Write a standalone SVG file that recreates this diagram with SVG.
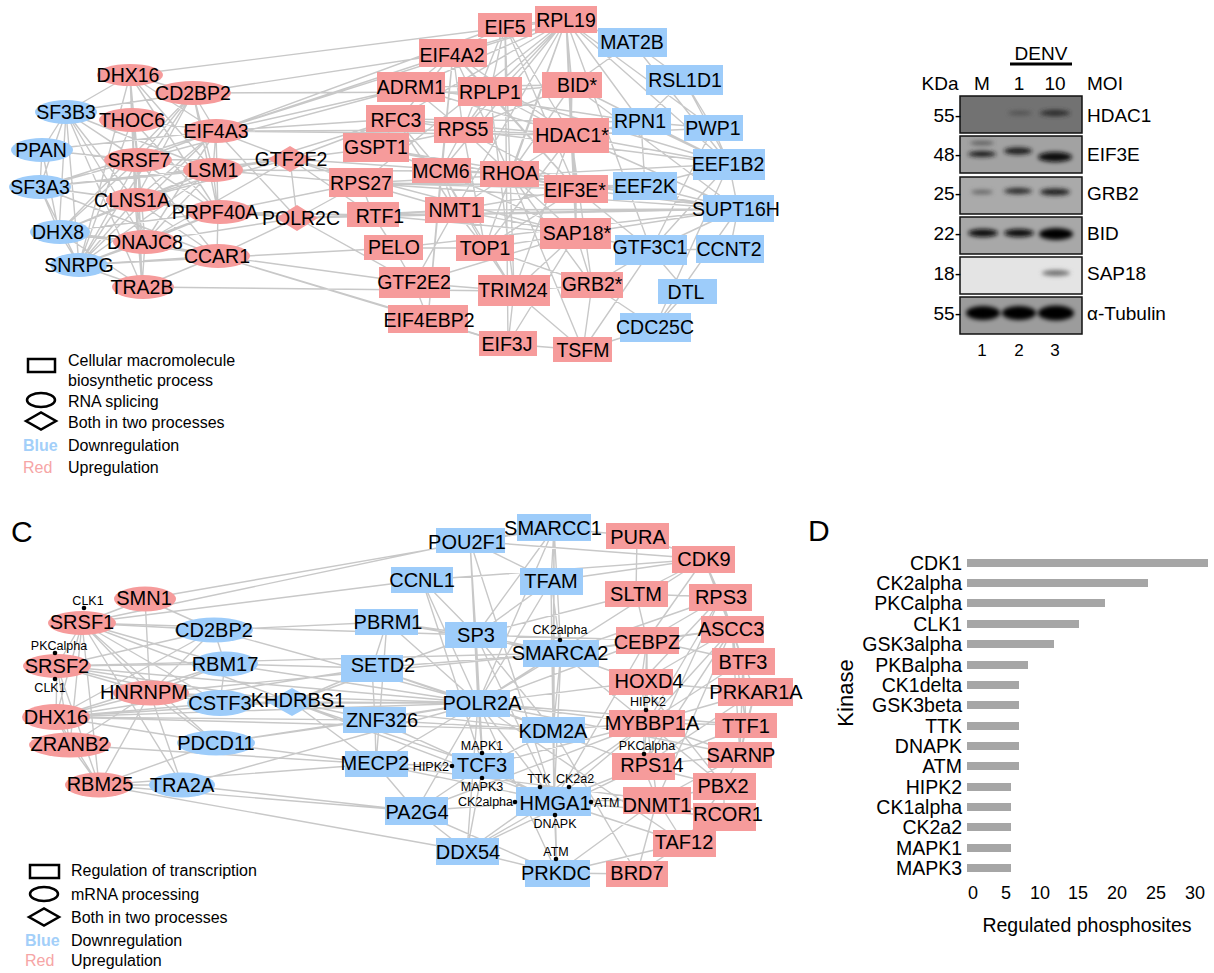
<svg xmlns="http://www.w3.org/2000/svg" width="1214" height="973" viewBox="0 0 1214 973">
<style>
text{font-family:"Liberation Sans",Arial,sans-serif;fill:#000}
.e{stroke:#c8c8c8;stroke-width:1.4;fill:none}
.r{fill:#F69B9B}
.b{fill:#9DCCFA}
.n text{font-size:19.5px;text-anchor:middle;dominant-baseline:central}
.m text{font-size:20px;text-anchor:middle;dominant-baseline:central}
.k{font-size:12.5px;text-anchor:middle;dominant-baseline:central}
.dot{fill:#000}
.lg{font-size:16px;dominant-baseline:central}
.ic{fill:#fff;stroke:#000;stroke-width:2.5}
.wb{font-size:19px;dominant-baseline:central}
.pan{stroke:#111;stroke-width:1.5}
.bar{fill:#a6a6a6}
.bl{font-size:19.5px;text-anchor:end;dominant-baseline:central}
.tk{font-size:18px;text-anchor:middle;dominant-baseline:central}
</style>
<defs>
<filter id="blur" x="-30%" y="-100%" width="160%" height="300%"><feGaussianBlur stdDeviation="2"/></filter>
</defs>

<g id="edges-top">
<path class="e" d="M130 75L193 93M130 75L132 120M130 75L138 160M130 75L216 131M130 75L213 170M130 75L135 200M130 75L66 112M130 75L218 212M130 75L145 242M130 75L79 265M193 93L66 112M193 93L138 160M193 93L213 170M193 93L135 200M193 93L79 265M193 93L218 212M193 93L59 232M193 93L216 131M66 112L42 150M66 112L40 187M66 112L138 160M66 112L135 200M66 112L59 232M66 112L79 265M66 112L218 212M66 112L145 242M66 112L213 170M66 112L142 287M132 120L216 131M132 120L138 160M132 120L135 200M132 120L79 265M132 120L218 212M132 120L142 287M216 131L138 160M216 131L213 170M216 131L42 150M216 131L40 187M216 131L135 200M216 131L218 212M216 131L145 242M216 131L79 265M216 131L290 159M216 131L297 218M42 150L138 160M42 150L40 187M42 150L59 232M138 160L213 170M138 160L40 187M138 160L135 200M138 160L59 232M138 160L79 265M138 160L218 212M138 160L145 242M138 160L142 287M138 160L217 256M138 160L290 159M213 170L135 200M213 170L79 265M213 170L218 212M213 170L59 232M213 170L40 187M213 170L145 242M213 170L290 159M290 159L297 218M290 159L135 200M290 159L40 187M290 159L145 242M40 187L135 200M40 187L59 232M40 187L79 265M40 187L218 212M40 187L217 256M135 200L218 212M135 200L59 232M135 200L145 242M135 200L79 265M135 200L142 287M135 200L217 256M135 200L297 218M218 212L145 242M218 212L79 265M218 212L217 256M218 212L59 232M218 212L297 218M59 232L79 265M59 232L145 242M59 232L142 287M59 232L217 256M145 242L79 265M145 242L142 287M145 242L217 256M217 256L79 265M217 256L142 287M79 265L142 287M297 218L217 256M297 218L145 242"/>
<path class="e" d="M130 75L566 20M193 93L453 53M193 93L490 92M216 131L453 53M216 131L505 25M216 131L566 20M216 131L463 130M216 131L571 135M216 131L411 87M216 131L396 119M213 170L361 183M213 170L441 171M290 159L396 119M290 159L361 183M290 159L376 148M290 159L373 215M290 159L510 174M290 159L576 234M297 218L373 215M297 218L455 210M297 218L738 209M297 218L361 183M297 218L414 283M218 212L361 183M218 212L373 215M217 256L428 319M217 256L414 283M217 256L508 344M142 287L514 291M135 200L396 119M138 160L411 87M79 265L394 248"/>
<path class="e" d="M566 20L505 25M566 20L453 53M566 20L490 92M566 20L463 130M566 20L411 87M566 20L396 119M566 20L632 42M566 20L572 85M566 20L571 135M566 20L361 183M566 20L441 171M566 20L510 174M566 20L576 189M566 20L455 210M566 20L641 122M566 20L729 164M566 20L485 248M566 20L576 234M566 20L651 250M566 20L713 128M505 25L453 53M505 25L490 92M505 25L463 130M505 25L576 189M505 25L571 135M505 25L514 291M505 25L508 344M453 53L411 87M453 53L490 92M453 53L463 130M453 53L376 148M453 53L576 189M453 53L428 319M453 53L571 135M453 53L441 171M453 53L510 174M632 42L684 80M632 42L729 164M632 42L572 85M684 80L713 128M684 80L729 164M684 80L641 122M411 87L463 130M411 87L571 135M411 87L572 85M411 87L641 122M490 92L463 130M490 92L576 189M490 92L571 135M490 92L514 291M490 92L572 85M490 92L729 164M572 85L571 135M572 85L510 174M572 85L729 164M572 85L738 209M572 85L463 130M396 119L463 130M396 119L571 135M396 119L441 171M396 119L455 210M396 119L641 122M463 130L571 135M463 130L441 171M463 130L510 174M463 130L576 189M463 130L729 164M463 130L485 248M571 135L641 122M571 135L729 164M571 135L738 209M571 135L510 174M571 135L576 234M571 135L576 189M571 135L592 285M571 135L514 291M571 135L485 248M571 135L713 128M641 122L729 164M641 122L713 128M641 122L645 186M713 128L729 164M713 128L651 250M376 148L576 189M376 148L463 130M376 148L738 209M376 148L441 171M729 164L645 186M729 164L738 209M729 164L361 183M729 164L651 250M729 164L655 327M441 171L510 174M441 171L455 210M441 171L485 248M441 171L576 234M441 171L514 291M441 171L428 319M510 174L576 189M510 174L738 209M510 174L455 210M510 174L576 234M510 174L592 285M510 174L583 350M576 189L645 186M576 189L738 209M576 189L576 234M576 189L455 210M576 189L361 183M576 189L485 248M576 189L651 250M645 186L738 209M645 186L361 183M361 183L738 209M361 183L455 210M361 183L373 215M738 209L373 215M738 209L455 210M738 209L576 234M738 209L730 249M738 209L651 250M738 209L485 248M738 209L394 248M738 209L655 327M373 215L455 210M373 215L576 234M373 215L394 248M455 210L576 234M455 210L485 248M455 210L414 283M576 234L651 250M576 234L514 291M576 234L592 285M576 234L414 283M576 234L508 344M576 234L485 248M651 250L687 292M651 250L592 285M651 250L583 350M730 249L651 250M394 248L485 248M394 248L414 283M485 248L514 291M485 248L592 285M414 283L514 291M414 283L428 319M514 291L508 344M514 291L592 285M514 291L583 350M592 285L583 350M592 285L655 327M687 292L655 327M428 319L508 344M508 344L583 350M655 327L583 350"/>
</g>

<g id="edges-bottom">
<path class="e" d="M82 623L57 666M82 623L56 717M82 623L150 693M82 623L214 630M82 623L225 664M82 623L220 703M82 623L99 785M82 623L182 785M82 623L70 745M82 623L145 599M82 623L216 743M82 623L292 702M57 666L56 717M57 666L150 693M57 666L225 664M57 666L214 630M57 666L220 703M57 666L99 785M57 666L292 702M57 666L70 745M145 599L150 693M145 599L214 630M214 630L225 664M214 630L56 717M214 630L150 693M225 664L220 703M225 664L56 717M225 664L150 693M150 693L56 717M150 693L220 703M150 693L99 785M150 693L182 785M150 693L70 745M150 693L216 743M220 703L292 702M220 703L56 717M56 717L70 745M56 717L99 785M56 717L216 743M56 717L292 702M70 745L99 785M216 743L99 785M99 785L182 785"/>
<path class="e" d="M82 623L470 541M82 623L422 580M145 599L554 528M82 623L476 635M57 666L561 653M57 666L478 703M214 630L387 622M214 630L478 703M225 664L372 668M225 664L478 703M292 702L478 703M292 702L476 635M292 702L375 720M292 702L553 730M292 702L554 801M292 702L376 764M292 702L372 668M292 702L483 766M220 703L478 703M56 717L478 703M56 717L372 668M56 717L375 720M56 717L553 730M216 743L375 720M216 743L376 764M216 743L478 703M99 785L416 811M99 785L376 764M99 785L467 851M182 785L416 811M182 785L478 703M70 745L376 764M150 693L478 703M150 693L561 653"/>
<path class="e" d="M554 528L470 541M554 528L551 581M554 528L561 653M554 528L476 635M554 528L478 703M554 528L553 730M554 528L637 536M554 528L554 801M470 541L476 635M470 541L478 703M470 541L551 581M470 541L554 801M470 541L704 559M422 580L478 703M422 580L476 635M422 580L704 559M422 580L483 766M551 581L561 653M551 581L476 635M551 581L478 703M551 581L553 730M551 581L554 801M551 581L704 559M387 622L561 653M387 622L476 635M387 622L478 703M387 622L372 668M387 622L376 764M476 635L478 703M476 635L561 653M476 635L483 766M476 635L554 801M476 635L553 730M476 635L647 640M476 635L636 594M561 653L478 703M561 653L553 730M561 653L554 801M561 653L647 640M561 653L641 682M561 653L732 629M561 653L721 597M561 653L647 723M372 668L478 703M372 668L375 720M372 668L553 730M372 668L561 653M478 703L375 720M478 703L553 730M478 703L483 766M478 703L554 801M478 703L376 764M478 703L416 811M478 703L704 559M478 703L647 640M478 703L641 682M478 703L647 723M478 703L746 725M478 703L643 766M478 703L684 843M478 703L467 851M478 703L557 873M478 703L740 755M375 720L553 730M375 720L376 764M375 720L554 801M553 730L554 801M553 730L483 766M553 730L647 723M553 730L557 873M553 730L637 874M376 764L483 766M376 764L554 801M376 764L416 811M376 764L657 800M483 766L554 801M483 766L416 811M483 766L467 851M483 766L647 723M554 801L557 873M554 801L467 851M554 801L416 811M554 801L657 800M554 801L643 766M554 801L647 723M554 801L647 640M554 801L684 843M554 801L724 817M416 811L467 851M416 811L557 873M416 811L647 723M467 851L557 873M467 851L647 723M467 851L643 766M557 873L657 800M557 873L684 843M557 873L637 874"/>
<path class="e" d="M637 536L704 559M637 536L636 594M704 559L721 597M704 559L636 594M704 559L647 640M704 559L732 629M704 559L755 692M704 559L743 661M636 594L721 597M636 594L647 640M721 597L732 629M721 597L647 640M721 597L641 682M721 597L743 661M721 597L647 723M721 597L643 766M732 629L647 640M732 629L743 661M732 629L641 682M732 629L647 723M732 629L643 766M732 629L746 725M732 629L740 755M732 629L657 800M647 640L641 682M647 640L647 723M647 640L743 661M647 640L643 766M743 661L755 692M743 661L746 725M743 661L647 723M743 661L740 755M641 682L647 723M641 682L724 786M641 682L755 692M755 692L647 723M755 692L746 725M755 692L740 755M755 692L643 766M647 723L746 725M647 723L643 766M647 723L740 755M647 723L657 800M647 723L724 786M746 725L643 766M746 725L740 755M643 766L740 755M643 766L657 800M643 766L724 786M740 755L724 786M740 755L657 800M724 786L724 817M724 786L657 800M724 786L684 843M657 800L724 817M657 800L684 843M657 800L637 874M724 817L684 843M684 843L637 874M724 817L637 874"/>
</g>

<!-- Top network nodes -->
<g class="n">
<g id="t-DHX16"><ellipse class="r" cx="130" cy="75" rx="33" ry="11"/><text x="128" y="75">DHX16</text></g>
<g id="t-CD2BP2"><ellipse class="r" cx="193" cy="93" rx="38" ry="12"/><text x="193" y="93">CD2BP2</text></g>
<g id="t-SF3B3"><ellipse class="b" cx="66" cy="112" rx="31" ry="12"/><text x="66" y="112">SF3B3</text></g>
<g id="t-THOC6"><ellipse class="r" cx="132" cy="120" rx="33" ry="12"/><text x="132" y="120">THOC6</text></g>
<g id="t-EIF4A3"><ellipse class="r" cx="216" cy="131" rx="32" ry="12"/><text x="216" y="131">EIF4A3</text></g>
<g id="t-PPAN"><ellipse class="b" cx="42" cy="150" rx="31" ry="12"/><text x="41" y="150">PPAN</text></g>
<g id="t-SRSF7"><ellipse class="r" cx="138" cy="160" rx="34" ry="12"/><text x="139" y="160">SRSF7</text></g>
<g id="t-LSM1"><ellipse class="r" cx="213" cy="170" rx="30" ry="12"/><text x="213" y="170">LSM1</text></g>
<g id="t-GTF2F2"><polygon class="r" points="268,159 290,146 312,159 290,172"/><text x="291" y="159">GTF2F2</text></g>
<g id="t-SF3A3"><ellipse class="b" cx="40" cy="187" rx="31" ry="12"/><text x="40" y="187">SF3A3</text></g>
<g id="t-CLNS1A"><ellipse class="r" cx="137" cy="200" rx="31" ry="12"/><text x="132" y="200">CLNS1A</text></g>
<g id="t-PRPF40A"><ellipse class="r" cx="220" cy="212" rx="33" ry="12"/><text x="215" y="212">PRPF40A</text></g>
<g id="t-POLR2C"><polygon class="r" points="276,218 297,205 318,218 297,231"/><text x="301" y="218">POLR2C</text></g>
<g id="t-DHX8"><ellipse class="b" cx="60" cy="232" rx="30" ry="12"/><text x="58" y="232">DHX8</text></g>
<g id="t-DNAJC8"><ellipse class="r" cx="145" cy="242" rx="32" ry="12"/><text x="145" y="242">DNAJC8</text></g>
<g id="t-CCAR1"><ellipse class="r" cx="218" cy="256" rx="32" ry="12"/><text x="217" y="256">CCAR1</text></g>
<g id="t-SNRPG"><ellipse class="b" cx="79" cy="265" rx="29" ry="12"/><text x="79" y="265">SNRPG</text></g>
<g id="t-TRA2B"><ellipse class="r" cx="143" cy="287" rx="31" ry="12"/><text x="142" y="287">TRA2B</text></g>

<g id="t-EIF5"><rect class="r" x="478" y="13" width="54" height="24"/><text x="505" y="27">EIF5</text></g>
<g id="t-RPL19"><rect class="r" x="535" y="6" width="62" height="27"/><text x="566" y="20">RPL19</text></g>
<g id="t-MAT2B"><rect class="b" x="598" y="28" width="69" height="29"/><text x="632" y="42">MAT2B</text></g>
<g id="t-EIF4A2"><rect class="r" x="419" y="39" width="68" height="28"/><text x="452" y="55">EIF4A2</text></g>
<g id="t-RSL1D1"><rect class="b" x="646" y="65" width="77" height="30"/><text x="685" y="80">RSL1D1</text></g>
<g id="t-ADRM1"><rect class="r" x="377" y="72" width="68" height="30"/><text x="411" y="87">ADRM1</text></g>
<g id="t-RPLP1"><rect class="r" x="458" y="77" width="64" height="29"/><text x="490" y="92">RPLP1</text></g>
<g id="t-BID"><rect class="r" x="542" y="72" width="60" height="26"/><text x="577" y="85">BID*</text></g>
<g id="t-RFC3"><rect class="r" x="366" y="105" width="59" height="27"/><text x="396" y="120">RFC3</text></g>
<g id="t-RPS5"><rect class="r" x="434" y="117" width="59" height="26"/><text x="463" y="129">RPS5</text></g>
<g id="t-HDAC1"><rect class="r" x="533" y="118" width="76" height="35"/><text x="572" y="135">HDAC1*</text></g>
<g id="t-RPN1"><rect class="b" x="612" y="108" width="59" height="27"/><text x="640" y="121">RPN1</text></g>
<g id="t-PWP1"><rect class="b" x="684" y="115" width="59" height="26"/><text x="713" y="128">PWP1</text></g>
<g id="t-GSPT1"><rect class="r" x="343" y="133" width="66" height="29"/><text x="376" y="147">GSPT1</text></g>
<g id="t-EEF1B2"><rect class="b" x="693" y="149" width="72" height="31"/><text x="728" y="164">EEF1B2</text></g>
<g id="t-MCM6"><rect class="r" x="412" y="158" width="59" height="25"/><text x="441" y="171">MCM6</text></g>
<g id="t-RHOA"><rect class="r" x="480" y="161" width="59" height="26"/><text x="510" y="173">RHOA</text></g>
<g id="t-EIF3E"><rect class="r" x="544" y="175" width="64" height="28"/><text x="575" y="190">EIF3E*</text></g>
<g id="t-EEF2K"><rect class="b" x="613" y="172" width="64" height="28"/><text x="645" y="186">EEF2K</text></g>
<g id="t-RPS27"><rect class="r" x="329" y="168" width="64" height="29"/><text x="361" y="183">RPS27</text></g>
<g id="t-SUPT16H"><rect class="b" x="703" y="195" width="71" height="27"/><text x="736" y="209">SUPT16H</text></g>
<g id="t-RTF1"><rect class="r" x="347" y="202" width="52" height="25"/><text x="380" y="216">RTF1</text></g>
<g id="t-NMT1"><rect class="r" x="425" y="197" width="59" height="26"/><text x="455" y="210">NMT1</text></g>
<g id="t-SAP18"><rect class="r" x="540" y="218" width="71" height="31"/><text x="577" y="233">SAP18*</text></g>
<g id="t-GTF3C1"><rect class="b" x="615" y="235" width="72" height="30"/><text x="650" y="247">GTF3C1</text></g>
<g id="t-CCNT2"><rect class="b" x="696" y="235" width="68" height="28"/><text x="729" y="249">CCNT2</text></g>
<g id="t-PELO"><rect class="r" x="364" y="235" width="59" height="25"/><text x="394" y="247">PELO</text></g>
<g id="t-TOP1"><rect class="r" x="456" y="235" width="58" height="26"/><text x="485" y="248">TOP1</text></g>
<g id="t-GTF2E2"><rect class="r" x="379" y="267" width="71" height="31"/><text x="414" y="282">GTF2E2</text></g>
<g id="t-TRIM24"><rect class="r" x="478" y="275" width="72" height="31"/><text x="513" y="290">TRIM24</text></g>
<g id="t-GRB2"><rect class="r" x="561" y="272" width="62" height="26"/><text x="592" y="284">GRB2*</text></g>
<g id="t-DTL"><rect class="b" x="658" y="279" width="59" height="25"/><text x="686" y="292">DTL</text></g>
<g id="t-EIF4EBP2"><rect class="r" x="388" y="305" width="80" height="28"/><text x="429" y="320">EIF4EBP2</text></g>
<g id="t-EIF3J"><rect class="r" x="479" y="331" width="58" height="25"/><text x="507" y="344">EIF3J</text></g>
<g id="t-CDC25C"><rect class="b" x="620" y="313" width="71" height="29"/><text x="655" y="327">CDC25C</text></g>
<g id="t-TSFM"><rect class="r" x="553" y="337" width="59" height="25"/><text x="583" y="350">TSFM</text></g>
</g>

<!-- Top legend -->
<g id="legend-top">
<rect class="ic" x="28" y="359" width="27" height="13"/>
<ellipse class="ic" cx="41" cy="400" rx="14" ry="7"/>
<polygon class="ic" points="26,421 41,412.5 56,421 41,429.5"/>
<text class="lg" x="68" y="360">Cellular macromolecule</text>
<text class="lg" x="68" y="380">biosynthetic process</text>
<text class="lg" x="68" y="401">RNA splicing</text>
<text class="lg" x="68" y="422">Both in two processes</text>
<text class="lg" x="23" y="445" style="fill:#A3CFF9;font-weight:bold">Blue</text>
<text class="lg" x="68" y="445">Downregulation</text>
<text class="lg" x="23" y="467" style="fill:#F6A5A5">Red</text>
<text class="lg" x="68" y="467">Upregulation</text>
</g>

<!-- Western blot -->
<g id="western-blot">
<text class="wb" x="1041" y="53" text-anchor="middle">DENV</text>
<line x1="1010" y1="64" x2="1072" y2="64" stroke="#000" stroke-width="3"/>
<text class="wb" x="940" y="83" text-anchor="middle">KDa</text>
<text class="wb" x="982" y="83" text-anchor="middle">M</text>
<text class="wb" x="1019" y="83" text-anchor="middle">1</text>
<text class="wb" x="1055" y="83" text-anchor="middle">10</text>
<text class="wb" x="1105" y="83" text-anchor="middle">MOI</text>

<rect class="pan" x="960" y="96" width="122" height="37" fill="#727272"/>
<rect class="pan" x="960" y="136" width="122" height="37" fill="#a2a2a2"/>
<rect class="pan" x="960" y="177" width="122" height="37" fill="#aaaaaa"/>
<rect class="pan" x="960" y="217" width="122" height="37" fill="#a8a8a8"/>
<rect class="pan" x="960" y="257" width="122" height="37" fill="#e4e4e4"/>
<rect class="pan" x="960" y="297" width="122" height="37" fill="#9c9c9c"/>
<g filter="url(#blur)">
<ellipse cx="1020" cy="113" rx="12" ry="2" fill="#505050"/>
<ellipse cx="1055" cy="113" rx="15" ry="3" fill="#2a2a2a"/>
<ellipse cx="982" cy="143" rx="12" ry="1.8" fill="#505050"/>
<ellipse cx="982" cy="154" rx="14" ry="3" fill="#1a1a1a"/>
<ellipse cx="1018" cy="151" rx="14" ry="3.5" fill="#1a1a1a"/>
<ellipse cx="1055" cy="157" rx="17" ry="5" fill="#0a0a0a"/>
<ellipse cx="982" cy="192" rx="11" ry="2" fill="#606060"/>
<ellipse cx="1018" cy="191" rx="14" ry="3" fill="#2a2a2a"/>
<ellipse cx="1055" cy="192" rx="15" ry="3.5" fill="#202020"/>
<ellipse cx="983" cy="233" rx="15" ry="4" fill="#0a0a0a"/>
<ellipse cx="1019" cy="233" rx="15" ry="4" fill="#0a0a0a"/>
<ellipse cx="1056" cy="234" rx="17" ry="6" fill="#000"/>
<ellipse cx="1056" cy="273" rx="14" ry="3" fill="#707070"/>
<ellipse cx="983" cy="313" rx="17" ry="7" fill="#000"/>
<ellipse cx="1019" cy="313" rx="17" ry="7" fill="#000"/>
<ellipse cx="1056" cy="313" rx="18" ry="7.5" fill="#000"/>
</g>
<g text-anchor="end">
<text class="wb" x="961" y="115">55-</text>
<text class="wb" x="961" y="154">48-</text>
<text class="wb" x="961" y="193">25-</text>
<text class="wb" x="961" y="233">22-</text>
<text class="wb" x="961" y="273">18-</text>
<text class="wb" x="961" y="313">55-</text>
</g>
<text class="wb" x="1087" y="115">HDAC1</text>
<text class="wb" x="1087" y="154">EIF3E</text>
<text class="wb" x="1087" y="193">GRB2</text>
<text class="wb" x="1087" y="233">BID</text>
<text class="wb" x="1087" y="273">SAP18</text>
<text class="wb" x="1087" y="313">α-Tubulin</text>
<text class="wb" x="982" y="350" text-anchor="middle" style="font-size:17px">1</text>
<text class="wb" x="1019" y="350" text-anchor="middle" style="font-size:17px">2</text>
<text class="wb" x="1055" y="350" text-anchor="middle" style="font-size:17px">3</text>
</g>

<text x="11" y="542" style="font-size:30px">C</text>
<text x="808" y="541" style="font-size:30px">D</text>

<!-- Bottom network nodes -->
<g class="m">
<g id="b-SMN1"><ellipse class="r" cx="145" cy="599" rx="31" ry="12.5"/><text x="144" y="598">SMN1</text></g>
<g id="b-SRSF1"><ellipse class="r" cx="82" cy="623" rx="34" ry="12"/><text x="82" y="622">SRSF1</text></g>
<g id="b-CD2BP2"><ellipse class="b" cx="214" cy="630" rx="39" ry="12.5"/><text x="214" y="630">CD2BP2</text></g>
<g id="b-SRSF2"><ellipse class="r" cx="57" cy="666" rx="34" ry="12"/><text x="57" y="666">SRSF2</text></g>
<g id="b-RBM17"><ellipse class="b" cx="225" cy="664" rx="33" ry="12.5"/><text x="225" y="664">RBM17</text></g>
<g id="b-HNRNPM"><ellipse class="r" cx="151" cy="693" rx="38" ry="12.5"/><text x="144" y="692">HNRNPM</text></g>
<g id="b-CSTF3"><ellipse class="b" cx="220" cy="703" rx="33" ry="13"/><text x="220" y="703">CSTF3</text></g>
<g id="b-KHDRBS1"><polygon class="b" points="267,702 292,688 317,702 292,716"/><text x="298" y="700">KHDRBS1</text></g>
<g id="b-DHX16"><ellipse class="r" cx="56" cy="717" rx="34" ry="13"/><text x="56" y="717">DHX16</text></g>
<g id="b-PDCD11"><ellipse class="b" cx="216" cy="743" rx="39" ry="12.5"/><text x="216" y="743">PDCD11</text></g>
<g id="b-ZRANB2"><ellipse class="r" cx="70" cy="745" rx="41" ry="12.5"/><text x="70" y="744">ZRANB2</text></g>
<g id="b-RBM25"><ellipse class="r" cx="99" cy="785" rx="34" ry="12.5"/><text x="100" y="784">RBM25</text></g>
<g id="b-TRA2A"><ellipse class="b" cx="182" cy="785" rx="33" ry="12.5"/><text x="182" y="785">TRA2A</text></g>

<g id="b-SMARCC1"><rect class="b" x="517" y="514" width="74" height="27"/><text x="553" y="528">SMARCC1</text></g>
<g id="b-POU2F1"><rect class="b" x="436" y="528" width="69" height="25"/><text x="467" y="542">POU2F1</text></g>
<g id="b-CCNL1"><rect class="b" x="391" y="567" width="62" height="26"/><text x="422" y="580">CCNL1</text></g>
<g id="b-TFAM"><rect class="b" x="520" y="568" width="63" height="27"/><text x="551" y="581">TFAM</text></g>
<g id="b-PBRM1"><rect class="b" x="355" y="609" width="63" height="26"/><text x="388" y="622">PBRM1</text></g>
<g id="b-SP3"><rect class="b" x="445" y="622" width="62" height="26"/><text x="476" y="635">SP3</text></g>
<g id="b-SMARCA2"><rect class="b" x="523" y="640" width="76" height="27"/><text x="560" y="653">SMARCA2</text></g>
<g id="b-SETD2"><rect class="b" x="341" y="655" width="62" height="27"/><text x="383" y="665">SETD2</text></g>
<g id="b-POLR2A"><rect class="b" x="446" y="690" width="64" height="27"/><text x="482" y="703">POLR2A</text></g>
<g id="b-ZNF326"><rect class="b" x="343" y="707" width="63" height="26"/><text x="382" y="720">ZNF326</text></g>
<g id="b-KDM2A"><rect class="b" x="522" y="717" width="63" height="26"/><text x="553" y="731">KDM2A</text></g>
<g id="b-MECP2"><rect class="b" x="345" y="751" width="63" height="26"/><text x="375" y="763">MECP2</text></g>
<g id="b-TCF3"><rect class="b" x="452" y="753" width="62" height="26"/><text x="482" y="765">TCF3</text></g>
<g id="b-HMGA1"><rect class="b" x="516" y="787" width="75" height="29"/><text x="555" y="803">HMGA1</text></g>
<g id="b-PA2G4"><rect class="b" x="385" y="797" width="63" height="28"/><text x="417" y="812">PA2G4</text></g>
<g id="b-DDX54"><rect class="b" x="436" y="838" width="63" height="27"/><text x="468" y="852">DDX54</text></g>
<g id="b-PRKDC"><rect class="b" x="525" y="860" width="65" height="27"/><text x="556" y="873">PRKDC</text></g>

<g id="b-PURA"><rect class="r" x="606" y="523" width="63" height="26"/><text x="638" y="537">PURA</text></g>
<g id="b-CDK9"><rect class="r" x="672" y="546" width="63" height="27"/><text x="704" y="559">CDK9</text></g>
<g id="b-SLTM"><rect class="r" x="605" y="581" width="63" height="26"/><text x="636" y="594">SLTM</text></g>
<g id="b-RPS3"><rect class="r" x="689" y="584" width="63" height="27"/><text x="721" y="597">RPS3</text></g>
<g id="b-ASCC3"><rect class="r" x="701" y="616" width="63" height="27"/><text x="731" y="629">ASCC3</text></g>
<g id="b-CEBPZ"><rect class="r" x="616" y="627" width="63" height="27"/><text x="647" y="642">CEBPZ</text></g>
<g id="b-BTF3"><rect class="r" x="712" y="648" width="63" height="27"/><text x="743" y="662">BTF3</text></g>
<g id="b-HOXD4"><rect class="r" x="609" y="669" width="64" height="26"/><text x="649" y="681">HOXD4</text></g>
<g id="b-PRKAR1A"><rect class="r" x="718" y="678" width="75" height="28"/><text x="756" y="692">PRKAR1A</text></g>
<g id="b-MYBBP1A"><rect class="r" x="609" y="710" width="76" height="27"/><text x="652" y="723">MYBBP1A</text></g>
<g id="b-TTF1"><rect class="r" x="715" y="713" width="62" height="25"/><text x="746" y="726">TTF1</text></g>
<g id="b-RPS14"><rect class="r" x="612" y="753" width="63" height="27"/><text x="652" y="765">RPS14</text></g>
<g id="b-SARNP"><rect class="r" x="708" y="742" width="64" height="26"/><text x="741" y="755">SARNP</text></g>
<g id="b-PBX2"><rect class="r" x="693" y="773" width="63" height="27"/><text x="723" y="786">PBX2</text></g>
<g id="b-DNMT1"><rect class="r" x="623" y="787" width="68" height="27"/><text x="657" y="805">DNMT1</text></g>
<g id="b-RCOR1"><rect class="r" x="693" y="803" width="63" height="28"/><text x="728" y="814">RCOR1</text></g>
<g id="b-TAF12"><rect class="r" x="653" y="830" width="63" height="27"/><text x="684" y="842">TAF12</text></g>
<g id="b-BRD7"><rect class="r" x="606" y="861" width="62" height="26"/><text x="637" y="873">BRD7</text></g>
</g>

<!-- Kinase sites -->
<g id="kinase-sites">
<circle class="dot" cx="84" cy="608" r="2.3"/><text class="k" x="88" y="601">CLK1</text>
<circle class="dot" cx="55" cy="653" r="2.3"/><text class="k" x="59" y="646">PKCalpha</text>
<circle class="dot" cx="55" cy="679" r="2.3"/><text class="k" x="50" y="688">CLK1</text>
<circle class="dot" cx="560" cy="640" r="2.3"/><text class="k" x="560" y="630">CK2alpha</text>
<circle class="dot" cx="646" cy="710" r="2.3"/><text class="k" x="648" y="702">HIPK2</text>
<circle class="dot" cx="644" cy="754" r="2.3"/><text class="k" x="647" y="746">PKCalpha</text>
<circle class="dot" cx="482" cy="753" r="2.3"/><text class="k" x="482" y="746">MAPK1</text>
<circle class="dot" cx="452" cy="766" r="2.3"/><text class="k" x="449" y="767" style="text-anchor:end">HIPK2</text>
<circle class="dot" cx="482" cy="778" r="2.3"/><text class="k" x="482" y="787">MAPK3</text>
<circle class="dot" cx="540" cy="787" r="2.3"/><text class="k" x="539" y="779">TTK</text>
<circle class="dot" cx="569" cy="787" r="2.3"/><text class="k" x="575" y="779">CK2a2</text>
<circle class="dot" cx="515" cy="802" r="2.3"/><text class="k" x="513" y="802" style="text-anchor:end">CK2alpha</text>
<circle class="dot" cx="591" cy="802" r="2.3"/><text class="k" x="594" y="803" style="text-anchor:start">ATM</text>
<circle class="dot" cx="555" cy="815" r="2.3"/><text class="k" x="555" y="824">DNAPK</text>
<circle class="dot" cx="556" cy="859" r="2.3"/><text class="k" x="556" y="852">ATM</text>
</g>

<!-- Bottom legend -->
<g id="legend-bottom">
<rect class="ic" x="30" y="865" width="29" height="13"/>
<ellipse class="ic" cx="44" cy="894" rx="14" ry="7"/>
<polygon class="ic" points="29,917 44,908.5 59,917 44,925.5"/>
<text class="lg" x="71" y="870">Regulation of transcription</text>
<text class="lg" x="71" y="894">mRNA processing</text>
<text class="lg" x="71" y="917">Both in two processes</text>
<text class="lg" x="25" y="940" style="fill:#A3CFF9;font-weight:bold">Blue</text>
<text class="lg" x="71" y="940">Downregulation</text>
<text class="lg" x="25" y="960" style="fill:#F6A5A5">Red</text>
<text class="lg" x="71" y="960">Upregulation</text>
</g>

<!-- Bar chart -->
<g id="bar-chart">
<rect class="bar" x="967" y="559" width="241" height="8"/>
<rect class="bar" x="967" y="579" width="181" height="8"/>
<rect class="bar" x="967" y="599" width="138" height="8"/>
<rect class="bar" x="967" y="620" width="112" height="8"/>
<rect class="bar" x="967" y="640" width="87" height="8"/>
<rect class="bar" x="967" y="661" width="61" height="8"/>
<rect class="bar" x="967" y="681" width="52" height="8"/>
<rect class="bar" x="967" y="701" width="52" height="8"/>
<rect class="bar" x="967" y="722" width="52" height="8"/>
<rect class="bar" x="967" y="742" width="52" height="8"/>
<rect class="bar" x="967" y="762" width="52" height="8"/>
<rect class="bar" x="967" y="783" width="44" height="8"/>
<rect class="bar" x="967" y="803" width="44" height="8"/>
<rect class="bar" x="967" y="823" width="44" height="8"/>
<rect class="bar" x="967" y="844" width="44" height="8"/>
<rect class="bar" x="967" y="864" width="44" height="8"/>
<text class="bl" x="962" y="563">CDK1</text>
<text class="bl" x="962" y="583">CK2alpha</text>
<text class="bl" x="962" y="603">PKCalpha</text>
<text class="bl" x="962" y="624">CLK1</text>
<text class="bl" x="962" y="644">GSK3alpha</text>
<text class="bl" x="962" y="665">PKBalpha</text>
<text class="bl" x="962" y="685">CK1delta</text>
<text class="bl" x="962" y="705">GSK3beta</text>
<text class="bl" x="962" y="726">TTK</text>
<text class="bl" x="962" y="746">DNAPK</text>
<text class="bl" x="962" y="766">ATM</text>
<text class="bl" x="962" y="787">HIPK2</text>
<text class="bl" x="962" y="807">CK1alpha</text>
<text class="bl" x="962" y="827">CK2a2</text>
<text class="bl" x="962" y="848">MAPK1</text>
<text class="bl" x="962" y="868">MAPK3</text>
<text class="tk" x="973" y="893">0</text>
<text class="tk" x="1006" y="893">5</text>
<text class="tk" x="1040" y="893">10</text>
<text class="tk" x="1078" y="893">15</text>
<text class="tk" x="1117" y="893">20</text>
<text class="tk" x="1156" y="893">25</text>
<text class="tk" x="1195" y="893">30</text>
<text x="1087" y="925" style="font-size:19.5px;text-anchor:middle;dominant-baseline:central">Regulated phosphosites</text>
<text x="845" y="693" transform="rotate(-90 845 693)" style="font-size:22px;text-anchor:middle;dominant-baseline:central">Kinase</text>
</g>
</svg>
